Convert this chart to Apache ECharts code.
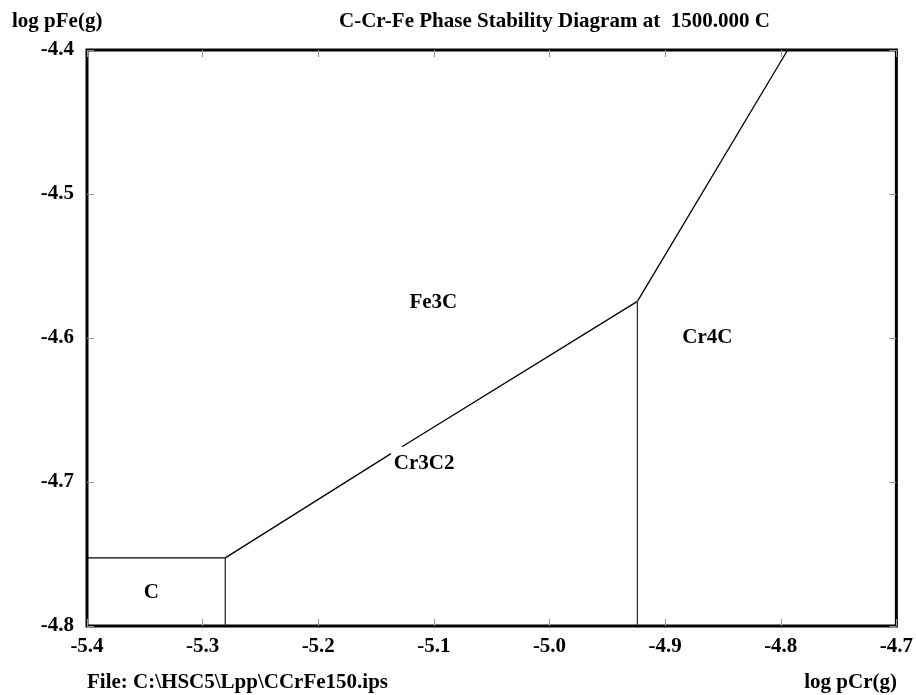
<!DOCTYPE html>
<html>
<head>
<meta charset="utf-8">
<script src="https://cdn.jsdelivr.net/npm/echarts@6/dist/echarts.min.js"></script>
<style>html,body{margin:0;padding:0;background:#fff}#c{width:916px;height:695px}</style>
</head>
<body>
<div id="c"></div>
<script>
// Phase boundary lines (x = log pCr(g), y = log pFe(g))
var boundaryC_Fe3C = [[-5.4, -4.7527], [-5.2804, -4.7527]];
var boundaryC_Cr3C2 = [[-5.2804, -4.7527], [-5.2804, -4.8]];
var boundaryFe3C_Cr3C2 = [[-5.2804, -4.7527], [-5.1371, -4.6803], null, [-5.1276, -4.6755], [-4.924, -4.5746]];
var boundaryCr3C2_Cr4C = [[-4.924, -4.5746], [-4.924, -4.8]];
var boundaryFe3C_Cr4C = [[-4.924, -4.5746], [-4.794, -4.4]];
// Region labels
var regionNames = ['Fe3C', 'Cr4C', 'Cr3C2', 'C'];
var regionPos = [[-5.1, -4.576], [-4.863, -4.6], [-5.108, -4.6873], [-5.344, -4.777]];
// Axis ranges
var xMin = -5.4, xMax = -4.7, xStep = 0.1;
var yMin = -4.8, yMax = -4.4, yStep = 0.1;

var FONT = 'Liberation Serif';
var FS = 21;
var chart = echarts.init(document.getElementById('c'), null, {renderer: 'canvas'});
function lineSeries(data, color) {
  return {type: 'line', data: data, symbol: 'none', silent: true, connectNulls: false,
    lineStyle: {color: color || '#000', width: 1.3}, xAxisIndex: 0, yAxisIndex: 0, z: 3};
}
var tickStyle = {show: true, inside: true, length: 7, lineStyle: {color: '#999', width: 1}};
var option = {
  animation: false,
  backgroundColor: '#fff',
  grid: {left: 87, right: 17, top: 50, bottom: 69, show: true, borderColor: '#000', borderWidth: 3, backgroundColor: 'transparent'},
  xAxis: [
    {type: 'value', min: xMin, max: xMax, interval: xStep, position: 'bottom',
      axisLine: {show: false}, axisTick: tickStyle, splitLine: {show: false},
      axisLabel: {margin: 10, color: '#000', fontFamily: FONT, fontWeight: 'bold', fontSize: FS,
        formatter: function (v) { return v.toFixed(1); }}},
    {type: 'value', min: xMin, max: xMax, interval: xStep, position: 'top',
      axisLine: {show: false}, axisTick: tickStyle, splitLine: {show: false}, axisLabel: {show: false}}
  ],
  yAxis: [
    {type: 'value', min: yMin, max: yMax, interval: yStep, position: 'left',
      axisLine: {show: false}, axisTick: tickStyle, splitLine: {show: false},
      axisLabel: {margin: 13, color: '#000', fontFamily: FONT, fontWeight: 'bold', fontSize: FS,
        formatter: function (v) { return v.toFixed(1); }}},
    {type: 'value', min: yMin, max: yMax, interval: yStep, position: 'right',
      axisLine: {show: false}, axisTick: tickStyle, splitLine: {show: false}, axisLabel: {show: false}}
  ],
  graphic: [
    {type: 'text', left: 12, top: 11, style: {text: 'log pFe(g)', fill: '#000', font: 'bold 21px "Liberation Serif"'}},
    {type: 'text', left: 339, top: 11, style: {text: 'C-Cr-Fe Phase Stability Diagram at  1500.000 C', fill: '#000', font: 'bold 21px "Liberation Serif"'}},
    {type: 'text', left: 87, top: 672, style: {text: 'File: C:\\HSC5\\Lpp\\CCrFe150.ips', fill: '#000', font: 'bold 21px "Liberation Serif"'}},
    {type: 'text', right: 19, top: 672, style: {text: 'log pCr(g)', fill: '#000', font: 'bold 21px "Liberation Serif"'}}
  ],
  series: [
    lineSeries(boundaryC_Fe3C),
    lineSeries(boundaryC_Cr3C2, '#333'),
    lineSeries(boundaryFe3C_Cr3C2),
    lineSeries(boundaryCr3C2_Cr4C, '#333'),
    lineSeries(boundaryFe3C_Cr4C),
    {type: 'scatter', symbolSize: 1, silent: true, z: 4,
      itemStyle: {color: 'transparent'},
      data: regionPos.map(function (p, i) { return {value: p, name: regionNames[i]}; }),
      label: {show: true, position: [0, 0], align: 'center', verticalAlign: 'middle',
        formatter: '{b}', color: '#000', textBorderWidth: 0, opacity: 1,
        fontFamily: FONT, fontWeight: 'bold', fontSize: FS}}
  ]
};
chart.setOption(option);
</script>
</body>
</html>
